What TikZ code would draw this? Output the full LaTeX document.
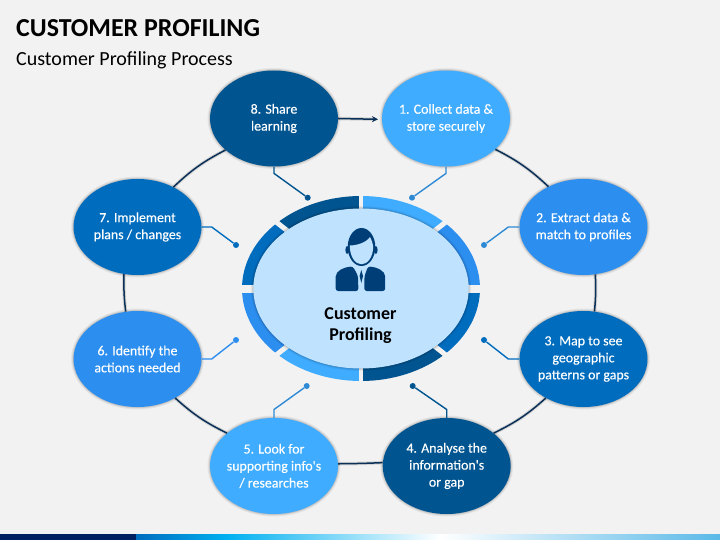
\documentclass[tikz,border=0pt]{standalone}
\usepackage{fontspec}
\setmainfont{Carlito}
\usetikzlibrary{shapes.geometric,arrows.meta}

\definecolor{pagegrey}{HTML}{F2F2F2}
\definecolor{paleblue}{HTML}{40ACFF}
\definecolor{midblue}{HTML}{2C8FF0}
\definecolor{deepblue}{HTML}{006CBE}
\definecolor{darkblue}{HTML}{005490}
\definecolor{hubblue}{HTML}{BFE3FF}
\definecolor{iconblue}{HTML}{003E78}
\definecolor{ringnavy}{HTML}{0A3058}
\definecolor{leadlight}{HTML}{2F8AD6}
\definecolor{barnavy}{HTML}{002060}
\definecolor{barcyan}{HTML}{00B0F0}
\definecolor{barend}{HTML}{5AB9E8}

\tikzset{
softedge/.style={preaction={draw=black,draw opacity=.05,line width=5pt},preaction={draw=black,draw opacity=.07,line width=3pt},preaction={draw=black,draw opacity=.1,line width=1.2pt}},
stagenode/.style={ellipse,minimum width=128pt,minimum height=96pt,inner sep=-10pt,align=center,text=white,font=\fontsize{13.9}{17}\selectfont\addfontfeature{FakeBold=0.25},softedge},
ringline/.style={draw=ringnavy,line width=1.5pt,preaction={draw=black,draw opacity=.12,line width=3.5pt}},
leader/.style={line width=1.4pt},
dotnode/.style={circle,minimum size=6pt,inner sep=0pt}
}

\begin{document}
\begin{tikzpicture}[x=1pt,y=-1pt]
\useasboundingbox (0,0) rectangle (720,540);
\fill[pagegrey] (0,0) rectangle (720,540);

\node[anchor=base west,inner sep=0pt,font=\fontsize{25.9}{30}\selectfont\bfseries] (title) at (16,36.7) {CUSTOMER PROFILING};
\node[anchor=base west,inner sep=0pt,font=\fontsize{20}{24}\selectfont] (subtitle) at (16,65.7) {Customer Profiling Process};

\coordinate (hubc) at (361,288.5);
\foreach \a/\b/\c in {90/45/paleblue,45/0/midblue,0/-45/deepblue,-45/-90/darkblue,-90/-135/paleblue,-135/-180/midblue,180/135/deepblue,135/90/darkblue}
  \fill[\c] (hubc) -- +(\a:119pt and 92.5pt) arc[start angle=\a,end angle=\b,x radius=119pt,y radius=92.5pt] -- cycle;
\foreach \a/\w in {90/4.3,-90/4.3,0/8,180/8,45/5,135/5,-45/5,-135/5}
  \draw[pagegrey,line width=\w pt] (hubc) -- +(\a:125pt and 98pt);

\node[ellipse,minimum width=215.4pt,minimum height=160pt,inner sep=0pt,fill=hubblue,softedge] (hub) at (hubc) {};

\fill[iconblue] (361.5,247) ellipse[x radius=13.8pt,y radius=19pt];
\fill[iconblue] (347.2,250) ellipse[x radius=1.8pt,y radius=4pt];
\fill[iconblue] (375.8,250) ellipse[x radius=1.8pt,y radius=4pt];
\fill[hubblue] (349.8,245.5) .. controls (356,245.5) and (366,243) .. (370,237) .. controls (371.5,240) and (373,243) .. (373.2,246.5) .. controls (373.2,257) and (367.5,264.3) .. (361.5,264.3) .. controls (355.5,264.3) and (349.8,257) .. (349.8,245.5) -- cycle;
\fill[iconblue,rounded corners=2.5pt] (335.7,291) -- (335.7,279) .. controls (335.7,271) and (344,267) .. (353,266.5) -- (358,276) -- (358.4,291) -- cycle;
\fill[iconblue,rounded corners=2.5pt] (385.2,291) -- (385.2,279) .. controls (385.2,271) and (377,267) .. (368,266.5) -- (364.5,276) -- (364.3,291) -- cycle;
\fill[iconblue] (361.3,270) -- (363,276) -- (361.3,283) -- (359.6,276) -- cycle;

\node[font=\fontsize{18}{21}\selectfont\bfseries,align=center,inner sep=0pt] (hublabel) at (360.5,325.5) {Customer\\Profiling};

\node[stagenode,fill=paleblue] (n1) at (446,118.5) {1. Collect data \&\\store securely};
\node[stagenode,fill=midblue] (n2) at (583.5,227) {2. Extract data \&\\match to profiles};
\node[stagenode,fill=deepblue] (n3) at (583.5,359) {3. Map to see\\geographic\\patterns or gaps};
\node[stagenode,fill=darkblue] (n4) at (446.7,466) {4. Analyse the\\information\textquotesingle s\\or gap};
\node[stagenode,fill=paleblue] (n5) at (274,466) {5. Look for\\supporting info\textquotesingle s\\/ researches};
\node[stagenode,fill=midblue] (n6) at (137.5,359) {6. Identify the\\actions needed};
\node[stagenode,fill=deepblue] (n7) at (137.5,227) {7. Implement\\plans / changes};
\node[stagenode,fill=darkblue] (n8) at (274,118.5) {8. Share\\learning};

\coordinate (tip1) at (378,119.3);
\draw[ringline,-{Stealth[length=6pt,width=6pt]}] (n8.east) -- (tip1);
\draw[ringline] (n1.-32) to[bend left=8] (n2.131);
\draw[ringline] (n2.-76) to[bend left=4] (n3.77);
\draw[ringline] (n3.-134) to[bend left=8] (n4.35);
\draw[ringline] (n4.177) to[bend left=1] (n5.2);
\draw[ringline] (n5.145) to[bend left=8] (n6.-46);
\draw[ringline] (n6.104) to[bend left=4] (n7.254);
\draw[ringline] (n7.48) to[bend left=8] (n8.213);

\node[dotnode,fill=leadlight] (d1) at (412,197.7) {};
\node[dotnode,fill=leadlight] (d2) at (484,245) {};
\node[dotnode,fill=deepblue] (d3) at (484,340) {};
\node[dotnode,fill=darkblue] (d4) at (412.7,386) {};
\node[dotnode,fill=leadlight] (d5) at (306.7,386) {};
\node[dotnode,fill=midblue] (d6) at (236,340) {};
\node[dotnode,fill=deepblue] (d7) at (236,245) {};
\node[dotnode,fill=darkblue] (d8) at (307.7,197.7) {};

\draw[leader,leadlight] (n1.south) -- ++(0,6.7) -- (d1);
\draw[leader,leadlight] (n2.west) -- ++(-11,0) -- (d2);
\draw[leader,deepblue] (n3.west) -- ++(-11,0) -- (d3);
\draw[leader,darkblue] (n4.north) -- ++(0,-8.3) -- (d4);
\draw[leader,leadlight] (n5.north) -- ++(0,-8.3) -- (d5);
\draw[leader,midblue] (n6.east) -- ++(10,0) -- (d6);
\draw[leader,deepblue] (n7.east) -- ++(10,0) -- (d7);
\draw[leader,darkblue] (n8.south) -- ++(0,6.7) -- (d8);

\fill[barnavy] (0,534) rectangle (136,540);
\shade[left color=deepblue,right color=barcyan] (136,534) rectangle (226,540);
\shade[left color=barcyan,right color=white] (226,534) rectangle (440,540);
\shade[left color=white,right color=barend] (440,534) rectangle (720,540);
\end{tikzpicture}
\end{document}
